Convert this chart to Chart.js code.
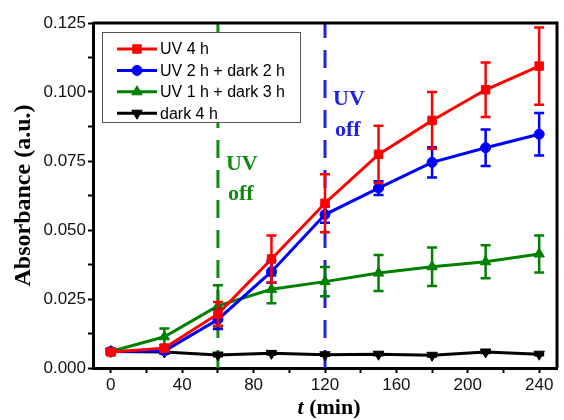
<!DOCTYPE html>
<html>
<head>
<meta charset="utf-8">
<script src="https://cdn.jsdelivr.net/npm/chart.js@4.4.1/dist/chart.umd.min.js"></script>
<style>
  html, body { margin: 0; padding: 0; background: #fff; }
  #wrap { width: 564px; height: 420px; }
</style>
</head>
<body>
<div id="wrap"><canvas id="absChart"></canvas></div>
<script>
// ---- data ----
const times = [0, 30, 60, 90, 120, 150, 180, 210, 240];

const uv4h     = [0.0058, 0.0072, 0.0196, 0.0395, 0.0597, 0.0774, 0.0897, 0.1008, 0.1094];
const uv4hErr  = [0.0010, 0.0010, 0.0043, 0.0085, 0.0105, 0.0104, 0.0103, 0.0099, 0.0140];
const uv2h     = [0.0060, 0.0062, 0.0176, 0.0349, 0.0556, 0.0652, 0.0745, 0.0798, 0.0847];
const uv2hErr  = [0.0010, 0.0010, 0.0035, 0.0040, 0.0030, 0.0025, 0.0055, 0.0066, 0.0077];
const uv1h     = [0.0060, 0.0113, 0.0225, 0.0285, 0.0313, 0.0344, 0.0367, 0.0385, 0.0413];
const uv1hErr  = [0.0010, 0.0030, 0.0075, 0.0050, 0.0053, 0.0065, 0.0070, 0.0060, 0.0067];
const dark4h   = [0.0060, 0.0058, 0.0047, 0.0053, 0.0048, 0.0050, 0.0046, 0.0058, 0.0050];
const dark4hErr= [0.0004, 0.0004, 0.0004, 0.0004, 0.0004, 0.0004, 0.0004, 0.0004, 0.0004];

const seriesLabels = ["UV 4 h", "UV 2 h + dark 2 h", "UV 1 h + dark 3 h", "dark 4 h"];
const uvOffTimes = [60, 120];

const xTickValues = [0, 20, 40, 60, 80, 100, 120, 140, 160, 180, 200, 220, 240];
const yTickValues = [0, 0.0125, 0.025, 0.0375, 0.05, 0.0625, 0.075, 0.0875, 0.1, 0.1125, 0.125];

function pts(ys) {
    return times.map((t, i) => ({ x: t, y: ys[i] }));
}

function series(label, ys, errs, color, style, radius, rotation) {
    return {
        label: label,
        data: pts(ys),
        errors: errs,
        borderColor: color,
        backgroundColor: color,
        borderWidth: 3,
        pointStyle: style,
        pointRadius: radius,
        pointRotation: rotation || 0,
        pointBorderWidth: 1,
        tension: 0
    };
}

function dashLine(t, color) {
    return {
        label: "",
        data: [{ x: t, y: 0 }, { x: t, y: 0.125 }],
        borderColor: color,
        borderWidth: 3,
        borderDash: [18, 12],
        pointRadius: 0,
        isGuide: true
    };
}

// error bars drawn right after each series so layering follows the lines
const errorBars = {
    id: "errorBars",
    afterDatasetDraw(chart, args) {
        const ds = chart.data.datasets[args.index];
        if (!ds.errors) return;
        const ctx = chart.ctx;
        const xs = chart.scales.x, ys = chart.scales.y;
        ctx.save();
        ctx.strokeStyle = ds.borderColor;
        ctx.lineWidth = 2.5;
        ds.data.forEach((p, i) => {
            const e = ds.errors[i];
            const px = xs.getPixelForValue(p.x);
            const top = ys.getPixelForValue(p.y + e);
            const bot = ys.getPixelForValue(p.y - e);
            ctx.beginPath();
            ctx.moveTo(px, top); ctx.lineTo(px, bot);
            ctx.moveTo(px - 5, top); ctx.lineTo(px + 5, top);
            ctx.moveTo(px - 5, bot); ctx.lineTo(px + 5, bot);
            ctx.stroke();
        });
        ctx.restore();
    }
};

// frame, legend box, "UV off" notes and axis titles
const decorations = {
    id: "decorations",
    afterDraw(chart) {
        const ctx = chart.ctx;
        const a = chart.chartArea;
        const xs = chart.scales.x, ys = chart.scales.y;
        ctx.save();

        // legend
        const lx = 102, ly = 32, lw = 198, lh = 90;
        ctx.fillStyle = "#fff";
        ctx.fillRect(lx, ly, lw, lh);
        ctx.strokeStyle = "#555";
        ctx.lineWidth = 1;
        ctx.strokeRect(lx + 0.5, ly + 0.5, lw, lh);
        ctx.font = "16px 'Liberation Sans', Arial, sans-serif";
        ctx.textBaseline = "middle";
        ctx.textAlign = "left";
        chart.data.datasets.filter(d => !d.isGuide).forEach((d, i) => {
            const cy = 49 + i * 21.4;
            ctx.strokeStyle = d.borderColor;
            ctx.lineWidth = 3;
            ctx.beginPath();
            ctx.moveTo(117, cy); ctx.lineTo(157, cy);
            ctx.stroke();
            ctx.fillStyle = d.backgroundColor;
            ctx.lineWidth = 1;
            Chart.helpers.drawPoint(ctx, {
                pointStyle: d.pointStyle,
                radius: d.pointRadius,
                rotation: d.pointRotation,
                borderWidth: 1
            }, 137, cy);
            ctx.fillStyle = "#000";
            ctx.fillText(d.label, 160, cy + 1);
        });

        // UV off notes
        ctx.font = "bold 22px 'Liberation Serif', 'Times New Roman', serif";
        ctx.textBaseline = "middle";
        ctx.fillStyle = "#138a13";
        let gx = xs.getPixelForValue(uvOffTimes[0]) + 8;
        ctx.fillText("UV", gx, ys.getPixelForValue(0.0739));
        ctx.fillText("off", gx + 2, ys.getPixelForValue(0.0630));
        ctx.fillStyle = "#1f1fe6";
        let bx = xs.getPixelForValue(uvOffTimes[1]) + 8;
        ctx.fillText("UV", bx, ys.getPixelForValue(0.0974));
        ctx.fillText("off", bx + 2, ys.getPixelForValue(0.0862));

        // top and right frame edges
        ctx.strokeStyle = "#000";
        ctx.lineWidth = 3;
        ctx.beginPath();
        ctx.moveTo(a.left, a.top); ctx.lineTo(a.right, a.top); ctx.lineTo(a.right, a.bottom);
        ctx.stroke();

        // axis titles
        ctx.fillStyle = "#000";
        ctx.textBaseline = "middle";
        ctx.font = "bold italic 22px 'Liberation Serif', 'Times New Roman', serif";
        const tW = ctx.measureText("t").width;
        ctx.font = "bold 22px 'Liberation Serif', 'Times New Roman', serif";
        const rest = " (min)";
        const rW = ctx.measureText(rest).width;
        const cx = (a.left + a.right) / 2 + 4;
        const startX = cx - (tW + rW) / 2;
        ctx.textAlign = "left";
        ctx.font = "bold italic 22px 'Liberation Serif', 'Times New Roman', serif";
        ctx.fillText("t", startX, 408);
        ctx.font = "bold 22px 'Liberation Serif', 'Times New Roman', serif";
        ctx.fillText(rest, startX + tW, 408);

        ctx.translate(24, (a.top + a.bottom) / 2);
        ctx.rotate(-Math.PI / 2);
        ctx.textAlign = "center";
        ctx.font = "bold 24px 'Liberation Serif', 'Times New Roman', serif";
        ctx.fillText("Absorbance (a.u.)", 0, 0);
        ctx.restore();
    }
};

const tickFont = { family: "'Liberation Sans', Arial, sans-serif", size: 17 };

new Chart(document.getElementById("absChart"), {
    type: "line",
    data: {
        datasets: [
            series(seriesLabels[0], uv4h, uv4hErr, "#ff0000", "rect", 6),
            series(seriesLabels[1], uv2h, uv2hErr, "#0000ff", "circle", 5),
            series(seriesLabels[2], uv1h, uv1hErr, "#008000", "triangle", 6),
            series(seriesLabels[3], dark4h, dark4hErr, "#000000", "triangle", 6, 180),
            dashLine(uvOffTimes[0], "#138a13"),
            dashLine(uvOffTimes[1], "#1f1fe6")
        ]
    },
    options: {
        responsive: true,
        maintainAspectRatio: false,
        animation: false,
        layout: { padding: { top: 23, right: 2, left: 0, bottom: 0 } },
        plugins: { legend: { display: false }, tooltip: { enabled: false } },
        scales: {
            x: {
                type: "linear",
                min: -10,
                max: 250,
                afterBuildTicks: s => { s.ticks = xTickValues.map(v => ({ value: v })); },
                afterFit: s => { s.height = 52; },
                border: { display: true, color: "#000", width: 3 },
                grid: { display: true, drawOnChartArea: false, drawTicks: true, tickLength: 5, tickWidth: 2, tickColor: "#000" },
                ticks: {
                    autoSkip: false,
                    maxRotation: 0,
                    padding: 2,
                    color: "#111",
                    font: tickFont,
                    callback: v => (v % 40 === 0 ? String(v) : "")
                }
            },
            y: {
                type: "linear",
                min: 0,
                max: 0.125,
                afterBuildTicks: s => { s.ticks = yTickValues.map(v => ({ value: v })); },
                afterFit: s => { s.width = 93; },
                border: { display: true, color: "#000", width: 3 },
                grid: { display: true, drawOnChartArea: false, drawTicks: true, tickLength: 5, tickWidth: 2, tickColor: "#000" },
                ticks: {
                    autoSkip: false,
                    padding: 2,
                    color: "#111",
                    font: tickFont,
                    callback: v => {
                        const k = v / 0.025;
                        return Math.abs(k - Math.round(k)) < 1e-6 ? v.toFixed(3) : "";
                    }
                }
            }
        }
    },
    plugins: [errorBars, decorations]
});
</script>
</body>
</html>
